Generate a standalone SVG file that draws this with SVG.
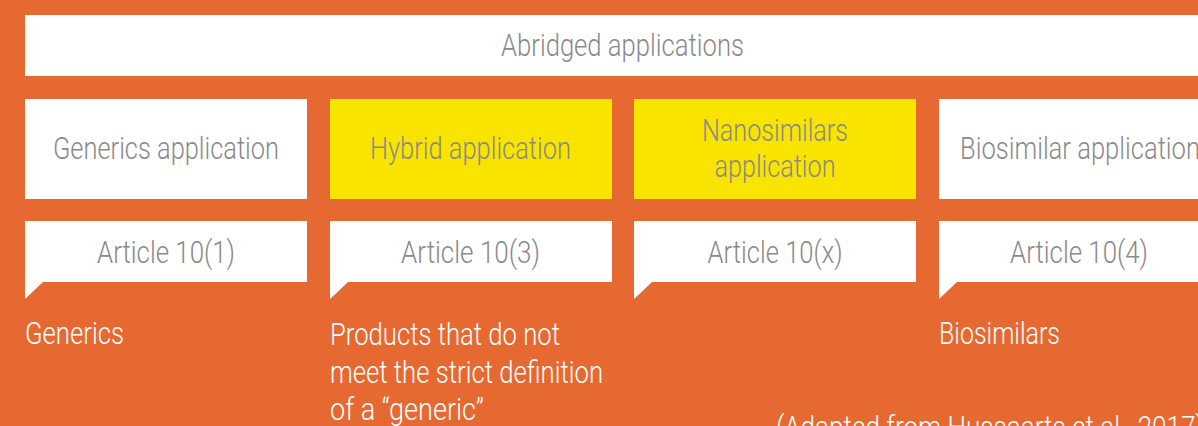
<svg xmlns="http://www.w3.org/2000/svg" width="1198" height="426" viewBox="0 0 1198 426">
<style>
.bg{fill:#E66932}
.w{fill:#FFFFFF}
.y{fill:#F9E400}
text{font-family:Roboto,"Liberation Sans",sans-serif;font-weight:300;font-size:31px}
.g{fill:#8A8A8A}
.t{fill:#FFFFFF}
.c{text-anchor:middle}
</style>
<rect class="bg" x="0" y="0" width="1198" height="426"/>
<g id="abridged">
<rect class="w" x="25" y="15" width="1200" height="61"/>
<text class="g c" x="622.5" y="56" textLength="243" lengthAdjust="spacingAndGlyphs">Abridged applications</text>
</g>
<g id="generics-app">
<rect class="w" x="25" y="99" width="282" height="100"/>
<text class="g c" x="166" y="159" textLength="226" lengthAdjust="spacingAndGlyphs">Generics application</text>
</g>
<g id="hybrid-app">
<rect class="y" x="330" y="99" width="282" height="100"/>
<text class="g c" x="470.5" y="159" textLength="201" lengthAdjust="spacingAndGlyphs">Hybrid application</text>
</g>
<g id="nano-app">
<rect class="y" x="634" y="99" width="282" height="100"/>
<text class="g c" x="775" y="141" textLength="146" lengthAdjust="spacingAndGlyphs">Nanosimilars</text>
<text class="g c" x="775" y="177" textLength="121" lengthAdjust="spacingAndGlyphs">application</text>
</g>
<g id="biosimilar-app">
<rect class="w" x="939" y="99" width="282" height="100"/>
<text class="g c" x="1080" y="159" textLength="240" lengthAdjust="spacingAndGlyphs">Biosimilar application</text>
</g>
<g id="art-10-1">
<path class="w" d="M25,221H307V282H43L25,299Z"/>
<text class="g c" x="166" y="263" textLength="138" lengthAdjust="spacingAndGlyphs">Article 10(1)</text>
</g>
<g id="art-10-3">
<path class="w" d="M330,221H612V282H348L330,299Z"/>
<text class="g c" x="470.5" y="263" textLength="139" lengthAdjust="spacingAndGlyphs">Article 10(3)</text>
</g>
<g id="art-10-x">
<path class="w" d="M634,221H916V282H652L634,299Z"/>
<text class="g c" x="775" y="263" textLength="135" lengthAdjust="spacingAndGlyphs">Article 10(x)</text>
</g>
<g id="art-10-4">
<path class="w" d="M939,221H1221V282H957L939,299Z"/>
<text class="g c" x="1079" y="263" textLength="138" lengthAdjust="spacingAndGlyphs">Article 10(4)</text>
</g>
<g id="generics-label">
<text class="t" x="25" y="344" textLength="99" lengthAdjust="spacingAndGlyphs">Generics</text>
</g>
<g id="hybrid-label">
<text class="t" x="330" y="345" textLength="230" lengthAdjust="spacingAndGlyphs">Products that do not</text>
<text class="t" x="330" y="383" textLength="273" lengthAdjust="spacingAndGlyphs">meet the strict definition</text>
<text class="t" x="330" y="420" textLength="154" lengthAdjust="spacingAndGlyphs">of a “generic”</text>
</g>
<g id="biosimilar-label">
<text class="t" x="939" y="344" textLength="121" lengthAdjust="spacingAndGlyphs">Biosimilars</text>
</g>
<g id="caption">
<text class="t" x="776" y="438" textLength="428" lengthAdjust="spacingAndGlyphs">(Adapted from Hussaarts et al., 2017)</text>
</g>
<g id="connectors"/>
</svg>
